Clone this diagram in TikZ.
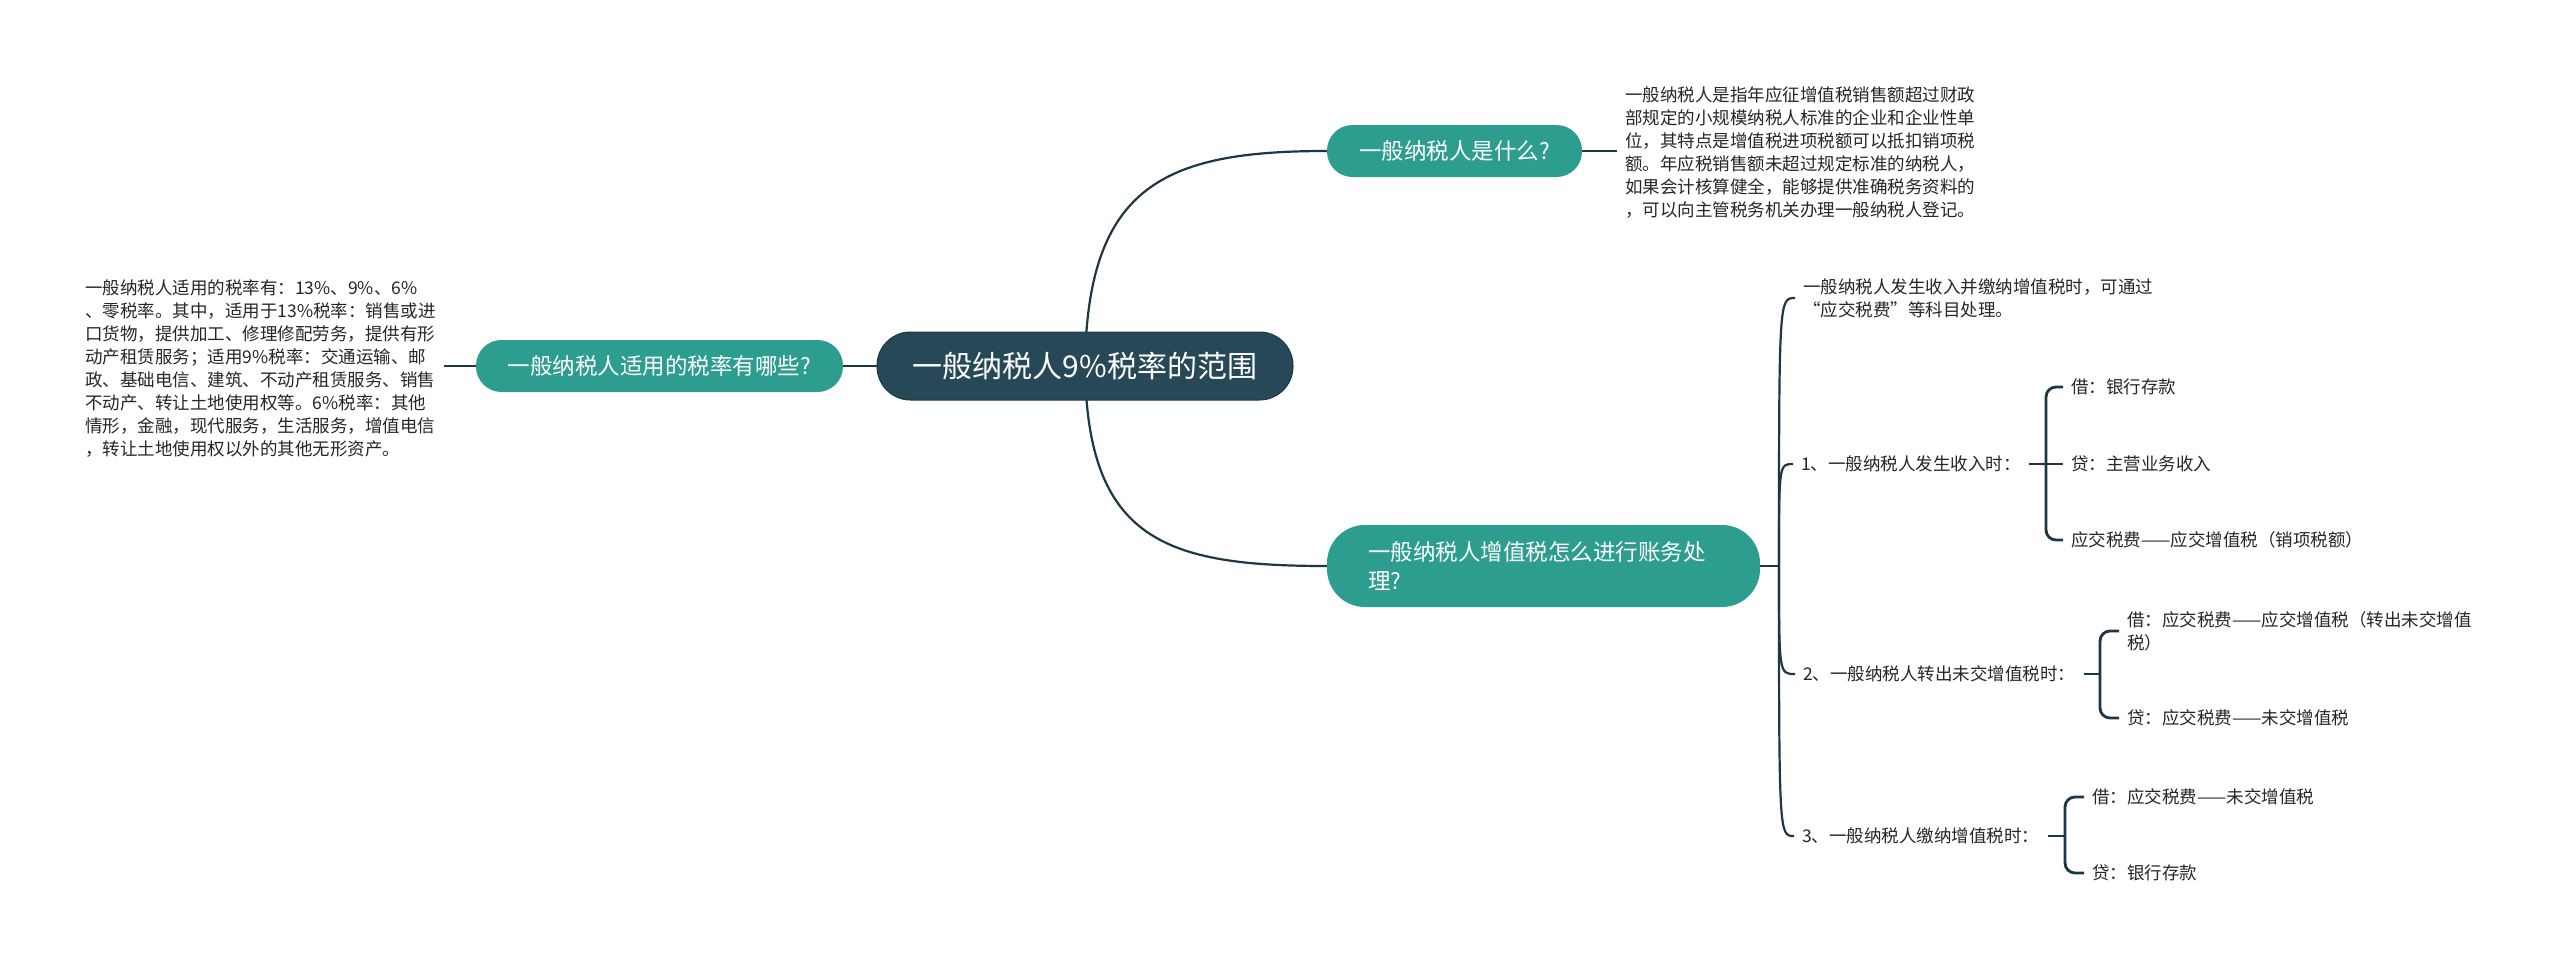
\documentclass[tikz,border=0pt]{standalone}
\usepackage{fontspec}
\setmainfont{Noto Sans CJK SC}
\usetikzlibrary{backgrounds}
\definecolor{tealc}{RGB}{44,157,142}
\definecolor{darkc}{RGB}{39,72,86}
\definecolor{linec}{RGB}{30,55,68}
\definecolor{txtc}{RGB}{38,38,38}
\begin{document}
\begin{tikzpicture}[x=1pt,y=-1pt,
  rootbox/.style={fill=darkc, draw=linec, line width=1pt, text=white, inner sep=0pt,
    font=\fontsize{30}{36}\selectfont},
  topicbox/.style={fill=tealc, text=white, inner sep=0pt,
    font=\fontsize{22.5}{29}\selectfont},
  leaf/.style={text=txtc, align=left, anchor=west, inner xsep=8pt, inner ysep=0pt,
    font=\fontsize{17.5}{23}\selectfont},
  conn/.style={draw=linec, line width=2.2pt},
  brk/.style={draw=linec, line width=2.8pt, rounded corners=10pt}]
\useasboundingbox (0,0) rectangle (2560,969);

% main nodes
\node[rootbox, minimum width=416pt, minimum height=68pt, rounded corners=33.5pt] (root) at (1085,366) {一般纳税人9\%税率的范围};
\node[topicbox, minimum width=367pt, minimum height=52pt, rounded corners=25.5pt] (tl) at (659.5,366) {一般纳税人适用的税率有哪些?};
\node[topicbox, minimum width=255pt, minimum height=52pt, rounded corners=25.5pt] (tq) at (1454.5,151) {一般纳税人是什么?};
\node[topicbox, minimum width=433pt, minimum height=82pt, rounded corners=38pt, align=left, text width=351pt] (tb) at (1543.5,566) {一般纳税人增值税怎么进行账务处\\理?};

% leaves
\node[leaf] (ll) at (77,369) {一般纳税人适用的税率有：13\%、9\%、6\%\\、零税率。其中，适用于13\%税率：销售或进\\口货物，提供加工、修理修配劳务，提供有形\\动产租赁服务；适用9\%税率：交通运输、邮\\政、基础电信、建筑、不动产租赁服务、销售\\不动产、转让土地使用权等。6\%税率：其他\\情形，金融，现代服务，生活服务，增值电信\\，转让土地使用权以外的其他无形资产。};
\node[leaf] (ql) at (1617,153) {一般纳税人是指年应征增值税销售额超过财政\\部规定的小规模纳税人标准的企业和企业性单\\位，其特点是增值税进项税额可以抵扣销项税\\额。年应税销售额未超过规定标准的纳税人，\\如果会计核算健全，能够提供准确税务资料的\\，可以向主管税务机关办理一般纳税人登记。};

\node[leaf] (c0) at (1795,298) {一般纳税人发生收入并缴纳增值税时，可通过\\“应交税费”等科目处理。};
\node[leaf] (n1) at (1793,464) {1、一般纳税人发生收入时：};
\node[leaf] (n2) at (1795,674) {2、一般纳税人转出未交增值税时：};
\node[leaf] (n3) at (1794,836) {3、一般纳税人缴纳增值税时：};

\node[leaf] (s11) at (2063,387) {借：银行存款};
\node[leaf] (s12) at (2063,464) {贷：主营业务收入};
\node[leaf] (s13) at (2063,540) {应交税费——应交增值税（销项税额）};

\node[leaf] (s21) at (2119,631) {借：应交税费——应交增值税（转出未交增值\\税）};
\node[leaf] (s22) at (2119,718) {贷：应交税费——未交增值税};

\node[leaf] (s31) at (2084,797) {借：应交税费——未交增值税};
\node[leaf] (s32) at (2084,873) {贷：银行存款};

% junction coordinates
\coordinate (jm) at (1779,566);
\coordinate (j1) at (2046,464);
\coordinate (j2) at (2100,674);
\coordinate (j3) at (2065,836);

\begin{scope}[on background layer]
  \fill[white] (0,0) rectangle (2560,969);
  \draw[conn] (root.center) .. controls (1087,185) and (1165,151) .. (tq.west);
  \draw[conn] (root.center) .. controls (1087,540) and (1165,566) .. (tb.west);
  \draw[conn] (root.center) -- (tl.east);
  \draw[conn] (tl.west) -- (tl.west -| ll.east);
  \draw[conn] (tq.east) -- (tq.east -| ql.west);
  \draw[brk] (tb.east) -- (jm);
  \draw[conn] (jm) .. controls (1779,298) .. (c0.west);
  \draw[conn] (jm) .. controls (1779,464) .. (n1.west);
  \draw[conn] (jm) .. controls (1779,674) .. (n2.west);
  \draw[conn] (jm) .. controls (1779,836) .. (n3.west);
  \draw[brk] (n1.east) -- (j1);
  \draw[brk] (j1) |- (s11.west);
  \draw[brk] (j1) -- (s12.west);
  \draw[brk] (j1) |- (s13.west);
  \draw[brk] (n2.east) -- (j2);
  \draw[brk] (j2) |- (s21.west);
  \draw[brk] (j2) |- (s22.west);
  \draw[brk] (n3.east) -- (j3);
  \draw[brk] (j3) |- (s31.west);
  \draw[brk] (j3) |- (s32.west);
\end{scope}
\end{tikzpicture}
\end{document}
